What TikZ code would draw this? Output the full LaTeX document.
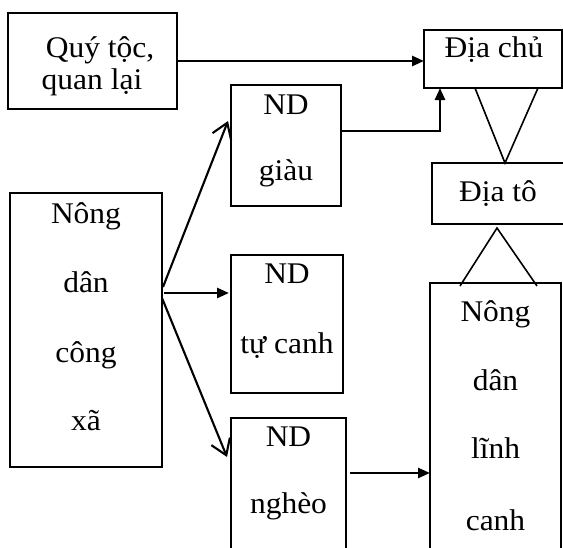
\documentclass[tikz,border=0pt]{standalone}
\usepackage{fontspec}
\setmainfont[FakeStretch=1.05]{Liberation Serif}
\usetikzlibrary{arrows.meta,calc}
\begin{document}
\begin{tikzpicture}[x=1pt,y=-1pt,
  box/.style={draw,line width=1.4pt,inner sep=0pt,outer sep=0pt,rectangle},
  thickbox/.style={box,line width=1.8pt},
  txt/.style={anchor=base,inner sep=0pt,font=\fontsize{30}{33}\selectfont},
  arr/.style={line width=2.6pt,-{Triangle[length=12pt,width=10pt]}},
  barb/.style={line width=2.1pt,-{Straight Barb[length=15pt,width=20pt,line width=2.1pt]}},
  vline/.style={line width=1.6pt}]
\useasboundingbox (0,0) rectangle (563,547);
\clip (0,0) rectangle (563,547);
% boxes
\node[box,minimum width=169pt,minimum height=96pt] (qt) at (92.5,61) {};
\node[box,line width=2.4pt,minimum width=138pt,minimum height=58pt] (dc) at (493,59) {};
\node[thickbox,minimum width=110pt,minimum height=121pt] (giau) at (286,145.5) {};
\node[box,minimum width=134pt,minimum height=61pt] (dt) at (499,193.5) {};
\node[thickbox,minimum width=131pt,minimum height=277pt] (lc) at (495.5,421.5) {};
\node[box,minimum width=152pt,minimum height=274pt] (cx) at (86,330) {};
\node[thickbox,minimum width=112pt,minimum height=138pt] (tc) at (287,324) {};
\node[thickbox,minimum width=115pt,minimum height=142pt] (ng) at (288.5,489) {};
% texts
\node[txt] (qt1) at (100,57) {Quý tộc,};
\node[txt] (qt2) at (92,89) {quan lại};
\node[txt] (dct) at (494,57) {Địa chủ};
\node[txt] (gi1) at (286,114) {ND};
\node[txt] (gi2) at (286,180) {giàu};
\node[txt] (dtt) at (498,201) {Địa tô};
\node[txt] (lc1) at (495.5,321) {Nông};
\node[txt] (lc2) at (495.5,390) {dân};
\node[txt] (lc3) at (495.5,458) {lĩnh};
\node[txt] (lc4) at (495.5,530) {canh};
\node[txt] (cx1) at (86,223) {Nông};
\node[txt] (cx2) at (86,292) {dân};
\node[txt] (cx3) at (86,362) {công};
\node[txt] (cx4) at (86,430) {xã};
\node[txt] (tc1) at (287,283) {ND};
\node[txt] (tc2) at (287,353) {tự canh};
\node[txt] (ng1) at (288.5,446) {ND};
\node[txt] (ng2) at (288.5,513) {nghèo};
% connectors
\draw[arr] (qt.east) -- (qt.east -| dc.west);
\draw[arr] ($(giau.north east)+(0,46)$) -| ($(dc.south west)+(16,0)$);
\draw[vline] ($(dc.south west)+(51,0)$) -- ($(dt.north west)+(73,0)$) -- ($(dc.south west)+(114,0)$);
\draw[vline] ($(lc.north west)+(30,3)$) -- ($(dt.south west)+(65,4)$) -- ($(lc.north west)+(107,3)$);
\draw[barb] ($(cx.north east)+(1,94)$) -- ($(giau.north west)+(-3,36)$);
\draw[arr] ($(cx.north east)+(2,100)$) -- ($(tc.north west)+(-2,38)$);
\draw[barb] ($(cx.north east)+(0,105)$) -- ($(ng.north west)+(-4,39)$);
\draw[arr] ($(ng.north east)+(4,55)$) -- ($(lc.north west)+(0,190)$);
\end{tikzpicture}
\end{document}
